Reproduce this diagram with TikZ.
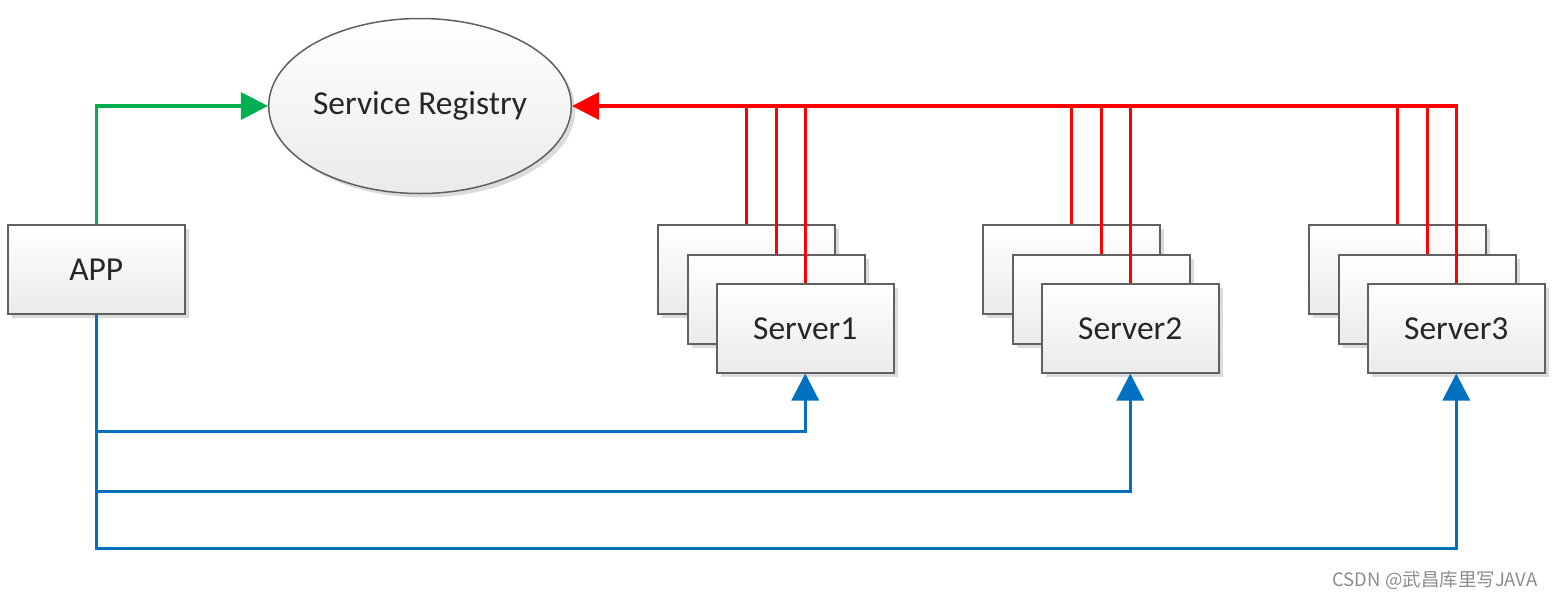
\documentclass[tikz,border=0pt]{standalone}
\usepackage{fontspec}
\setmainfont{Carlito}
\newfontfamily\cjkfont{Noto Sans CJK SC}
\usetikzlibrary{arrows.meta,shadows,shapes.geometric}
\definecolor{regred}{RGB}{255,0,0}
\definecolor{appgreen}{RGB}{0,176,80}
\definecolor{callblue}{RGB}{0,112,192}
\definecolor{boxborder}{RGB}{96,96,96}
\begin{document}
\begin{tikzpicture}[x=1pt,y=-1pt,
  shade/.style={drop shadow={shadow xshift=4pt,shadow yshift=-4pt,fill=black!14,opacity=1}},
  box/.style={draw=boxborder,line width=1.5pt,top color=white,bottom color=black!8,
    minimum width=177pt,minimum height=89pt,inner sep=0pt,shade,
    font=\fontsize{33.5}{38}\selectfont,text=black!85,anchor=north west},
  regnode/.style={ellipse,draw=boxborder,line width=1.5pt,top color=white,bottom color=black!8,
    minimum width=293pt,minimum height=175pt,inner sep=0pt,shade,
    font=\fontsize{33.5}{38}\selectfont,text=black!85},
  tip/.style={-{Triangle[length=27pt,width=27pt]}},
  regline/.style={draw=regred,line width=3.2pt},
  appline/.style={draw=appgreen,line width=3.2pt},
  callline/.style={draw=callblue,line width=3.2pt},
  mark2/.style={text=black!45,font=\cjkfont\fontsize{18.5}{21}\selectfont}
]
\useasboundingbox (0,0) rectangle (1556,600);

\node[regnode] (reg) at (420,106) {Service Registry};
\node[box] (app) at (7,224) {APP};

\node[box] (s1a) at (657,224) {};
\node[box] (s1b) at (687,254) {};
\node[box] (s1)  at (716,283) {Server1};

\node[box] (s2a) at (982,224) {};
\node[box] (s2b) at (1012,254) {};
\node[box] (s2)  at (1041,283) {Server2};

\node[box] (s3a) at (1308,224) {};
\node[box] (s3b) at (1338,254) {};
\node[box] (s3)  at (1367,283) {Server3};

% green: APP -> registry
\draw[appline,tip] (app.north) |- (reg.west);

% red: servers -> registry
\draw[regline,tip] (s3.north) |- (reg.east);
\foreach \n in {s1a,s1b,s1,s2a,s2b,s2,s3a,s3b}
  \draw[regline] (\n.north) -- (\n.north |- reg.east);

% blue: APP -> servers
\draw[callline,tip] (app.south) |- ([yshift=-58pt]s1.south) -- (s1.south);
\draw[callline,tip] (app.south) |- ([yshift=-118pt]s2.south) -- (s2.south);
\draw[callline,tip] (app.south) |- ([yshift=-175pt]s3.south) -- (s3.south);

\node[mark2,anchor=east] (wm) at (1541,580) {CSDN @武昌库里写JAVA};
\end{tikzpicture}
\end{document}
